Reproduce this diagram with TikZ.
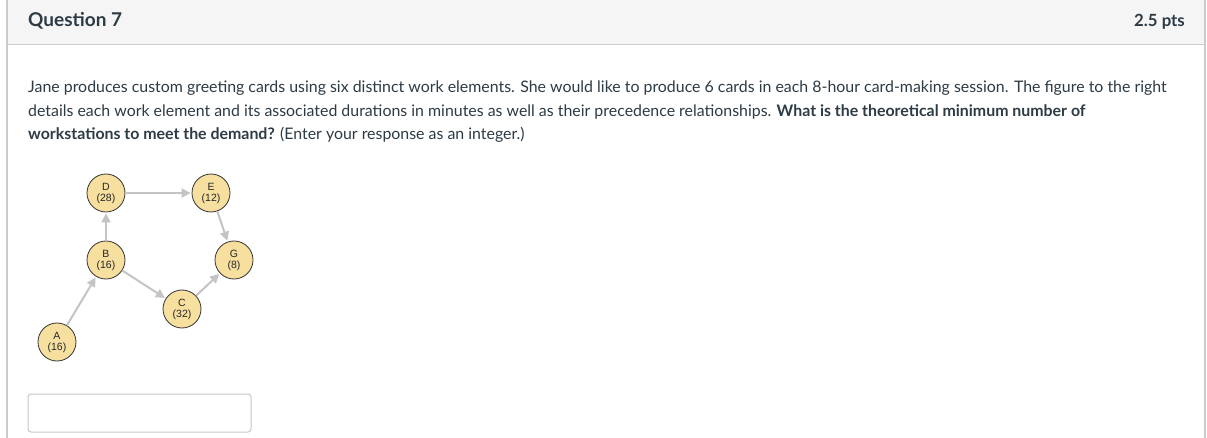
\documentclass[tikz,border=0pt]{standalone}
\usepackage{fontspec}
\setmainfont{Lato}
\newfontfamily\arialf{Liberation Sans}
\usetikzlibrary{arrows.meta}
\definecolor{txt}{HTML}{2D3B45}
\definecolor{hdrbg}{HTML}{F5F5F5}
\definecolor{bord}{HTML}{C7CDD1}
\definecolor{nodefill}{HTML}{F6DF9F}
\definecolor{arrowc}{HTML}{C4C4C4}
\tikzset{
  x=1pt,y=-1pt,
  elem/.style={circle, draw=black!80, line width=0.8pt, fill=nodefill, minimum size=38pt, inner sep=0pt, font=\arialf\fontsize{10.5}{11}\selectfont, align=center, text=black!85},
  prec/.style={draw=arrowc, line width=2pt, -{Triangle[length=9pt,width=9pt]}, shorten >=1pt},
  para/.style={anchor=base west, inner sep=0pt, text=txt, font=\fontsize{15.9}{18}\selectfont},
}
\begin{document}
\begin{tikzpicture}
\useasboundingbox (0,0) rectangle (1207,438);
\fill[white] (0,0) rectangle (1207,438);
\fill[hdrbg] (7,0) rectangle (1205,45);
\draw[bord, line width=1pt] (7,45) -- (1205,45);
\draw[bord, line width=1.2pt] (7,0) -- (7,438);
\draw[bord, line width=1.2pt] (1205,0) -- (1205,438);
\node[anchor=base west, inner sep=0pt, text=txt, font=\bfseries\fontsize{19}{21}\selectfont] (title) at (28,27) {Question 7};
\node[anchor=base east, inner sep=0pt, text=txt, font=\bfseries\fontsize{16.8}{18}\selectfont] (pts) at (1185,27) {2.5 pts};
\node[para] (l1) at (28,93) {Jane produces custom greeting cards using six distinct work elements. She would like to produce 6 cards in each 8-hour card-making session. The figure to the right};
\node[para] (l2) at (28,116.5) {details each work element and its associated durations in minutes as well as their precedence relationships. \textbf{What is the theoretical minimum number of}};
\node[para] (l3) at (28,140) {\textbf{workstations to meet the demand?} (Enter your response as an integer.)};
\node[elem] (D) at (106,193) {D\\(28)};
\node[elem] (E) at (211,193) {E\\(12)};
\node[elem] (B) at (106,260) {B\\(16)};
\node[elem] (G) at (234,260) {G\\(8)};
\node[elem] (C) at (182,309) {C\\(32)};
\node[elem] (A) at (57,342) {A\\(16)};
\draw[prec] (A) -- (B);
\draw[prec] (B) -- (D);
\draw[prec] (D) -- (E);
\draw[prec] (E) -- (G);
\draw[prec] (B) -- (C);
\draw[prec] (C) -- (G);
\draw[draw=black!22, line width=1pt, rounded corners=3pt] (28,394) rectangle (251,432);
\end{tikzpicture}
\end{document}
